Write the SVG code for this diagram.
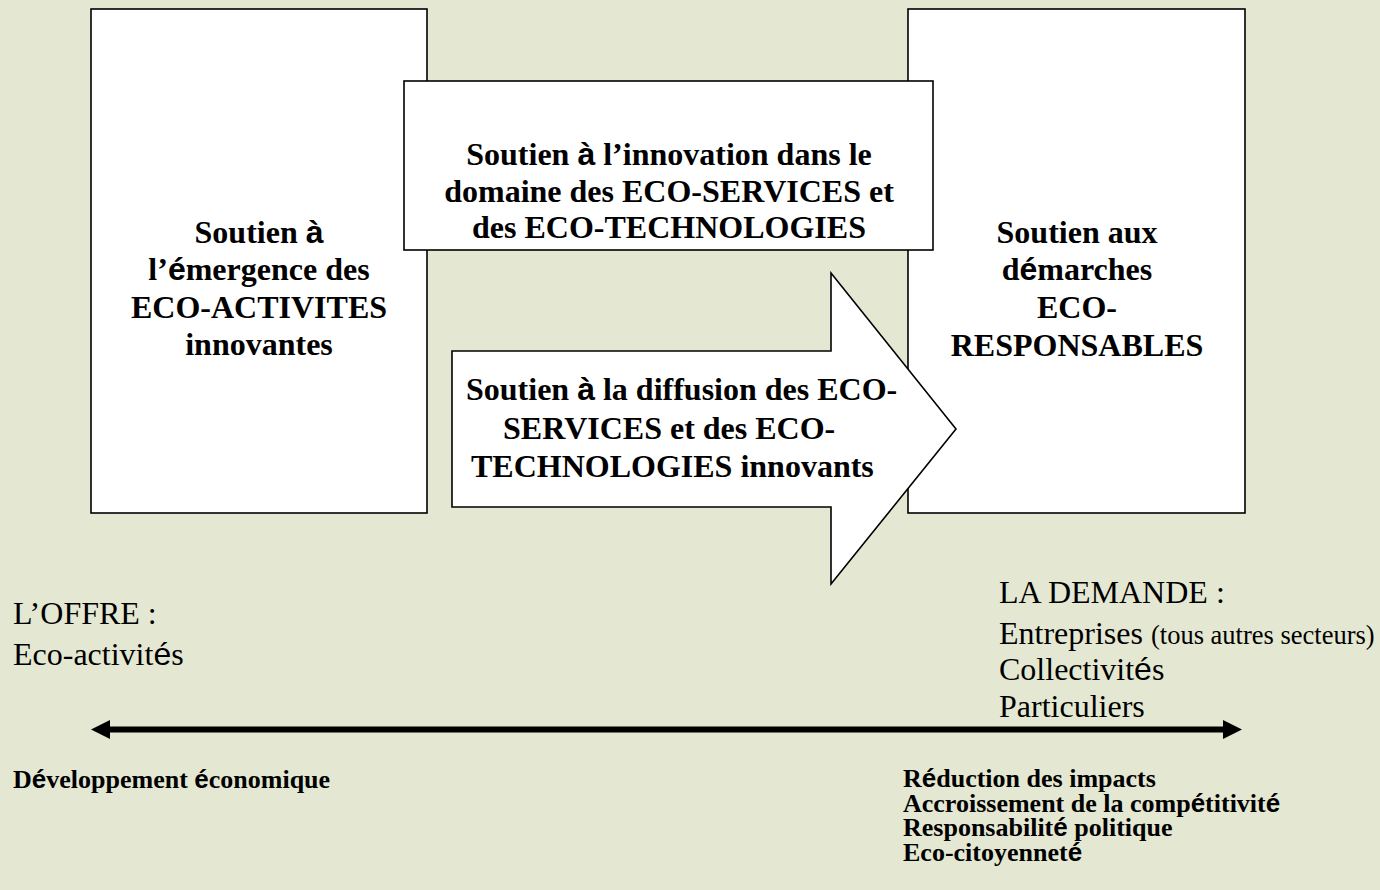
<svg xmlns="http://www.w3.org/2000/svg" width="1380" height="890" viewBox="0 0 1380 890">
<style>
.box{fill:#ffffff;stroke:#000000;stroke-width:1.6}
.t{font-family:"Liberation Serif","Times New Roman",serif;font-size:32px;font-weight:bold;fill:#000}
.r{font-family:"Liberation Serif","Times New Roman",serif;font-size:32px;fill:#000}
.b{font-family:"Liberation Serif","Times New Roman",serif;font-size:26px;font-weight:bold;fill:#000}
.s{font-family:"Liberation Sans",Arial,sans-serif}
.small{font-size:26.5px}
.c{text-anchor:middle}
</style>
<defs>
<marker id="ah" markerUnits="userSpaceOnUse" markerWidth="20" markerHeight="20" refX="5" refY="9.5" orient="auto-start-reverse">
<path d="M0,0 L19,9.5 L0,19 Z" fill="#000"/>
</marker>
</defs>
<rect width="1380" height="890" fill="#e4e8d2"/>
<g id="left-box">
<rect class="box" x="91" y="9" width="336" height="504"/>
<text class="t c" x="259" y="243">Soutien <tspan class="s">à</tspan></text>
<text class="t c" x="259" y="280">l’<tspan class="s">é</tspan>mergence des</text>
<text class="t c" x="259" y="318">ECO-ACTIVITES</text>
<text class="t c" x="259" y="355">innovantes</text>
</g>
<g id="right-box">
<rect class="box" x="908" y="9" width="337" height="504"/>
<text class="t c" x="1077" y="243">Soutien aux</text>
<text class="t c" x="1077" y="280">d<tspan class="s">é</tspan>marches</text>
<text class="t c" x="1077" y="318">ECO-</text>
<text class="t c" x="1077" y="356">RESPONSABLES</text>
</g>
<g id="middle-box">
<rect class="box" x="404" y="81" width="529" height="169"/>
<text class="t c" x="669" y="165">Soutien <tspan class="s">à</tspan> l’innovation dans le</text>
<text class="t c" x="669" y="202">domaine des ECO-SERVICES et</text>
<text class="t c" x="669" y="238">des ECO-TECHNOLOGIES</text>
</g>
<g id="arrow-node">
<polygon class="box" points="452,351 831,351 831,273 956,429 831,584 831,507 452,507"/>
<text class="t" x="466" y="400">Soutien <tspan class="s">à</tspan> la diffusion des ECO-</text>
<text class="t" x="503" y="439">SERVICES et des ECO-</text>
<text class="t" x="471" y="477">TECHNOLOGIES innovants</text>
</g>
<g id="offre">
<text class="r" x="13" y="624">L’OFFRE :</text>
<text class="r" x="13" y="665">Eco-activit<tspan class="s">é</tspan>s</text>
</g>
<g id="demande">
<text class="r" x="999" y="603">LA DEMANDE :</text>
<text class="r" x="999" y="644">Entreprises <tspan class="small">(tous autres secteurs)</tspan></text>
<text class="r" x="999" y="680">Collectivit<tspan class="s">é</tspan>s</text>
<text class="r" x="999" y="717">Particuliers</text>
</g>
<g id="connectors">
<line x1="105" y1="729.5" x2="1228" y2="729.5" stroke="#000" stroke-width="6" marker-start="url(#ah)" marker-end="url(#ah)"/>
</g>
<g id="left-outcomes">
<text class="b" x="13" y="788">D<tspan class="s">é</tspan>veloppement <tspan class="s">é</tspan>conomique</text>
</g>
<g id="right-outcomes">
<text class="b" x="903" y="787">R<tspan class="s">é</tspan>duction des impacts</text>
<text class="b" x="903" y="811.5">Accroissement de la comp<tspan class="s">é</tspan>titivit<tspan class="s">é</tspan></text>
<text class="b" x="903" y="836">Responsabilit<tspan class="s">é</tspan> politique</text>
<text class="b" x="903" y="860.5">Eco-citoyennet<tspan class="s">é</tspan></text>
</g>
</svg>
